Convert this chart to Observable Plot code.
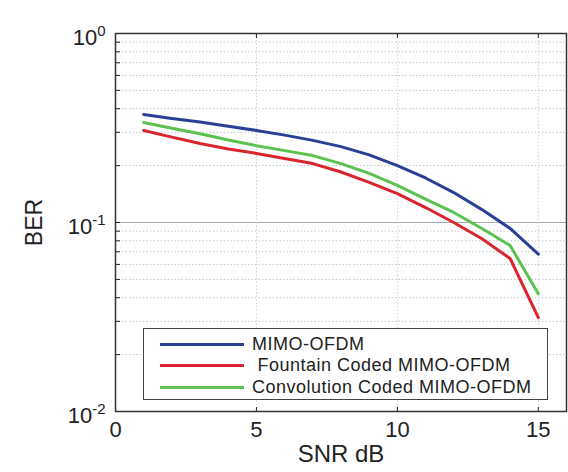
<!DOCTYPE html>
<html><head><meta charset="utf-8">
<script src="https://cdn.jsdelivr.net/npm/d3@7"></script>
<script src="https://cdn.jsdelivr.net/npm/@observablehq/plot@0.6"></script>
<style>
body{margin:0;background:#fff;font-family:"Liberation Sans",Arial,sans-serif;}
#wrap{position:relative;width:568px;height:472px;}
.legend{position:absolute;left:143px;top:328px;width:405px;height:72px;border:1.5px solid #444;background:#fff;box-sizing:border-box;}
.sw{position:absolute;left:16px;width:84px;height:3px;}
.lab{position:absolute;left:108px;font-size:18px;letter-spacing:0.5px;line-height:20px;color:#222;white-space:pre;}
</style></head><body><div id="wrap"></div>
<script>
const snr = [1,2,3,4,5,6,7,8,9,10,11,12,13,14,15];
const berMimo     = [0.373,0.355,0.340,0.323,0.307,0.290,0.272,0.252,0.228,0.200,0.172,0.144,0.117,0.093,0.068];
const berFountain = [0.307,0.283,0.262,0.245,0.232,0.218,0.205,0.185,0.163,0.142,0.120,0.100,0.082,0.0645,0.0314];
const berConv     = [0.338,0.315,0.295,0.273,0.255,0.240,0.226,0.205,0.182,0.157,0.133,0.113,0.093,0.0755,0.042];
const seriesNames = ["MIMO-OFDM", " Fountain Coded MIMO-OFDM", "Convolution Coded MIMO-OFDM"];
const seriesColors = ["#2b3f94", "#d9262e", "#5cc24f"];
const xTicks = [0,5,10,15];
const yMajor = [0.01,0.1,1];
const yMinor = [2,3,4,5,6,7,8,9].flatMap(k => [k*0.01, k*0.1]);

const seriesValues = [berMimo, berFountain, berConv];
const rows = seriesNames.flatMap((s,i) => snr.map((x,j) => ({snr:x, ber:seriesValues[i][j], series:s})));

const W=568, H=472, mL=115, mT=33, mR=2, mB=61;
const innerH = H-mT-mB, innerW = W-mL-mR;

const chart = Plot.plot({
  width: W, height: H, marginLeft: mL, marginTop: mT, marginRight: mR, marginBottom: mB,
  style: {fontFamily: "'Liberation Sans', Arial, sans-serif", fontSize: "22px", color: "#222", background: "#fff"},
  x: {domain: [0,16]},
  y: {type: "log", domain: [0.01,1]},
  color: {domain: seriesNames, range: seriesColors},
  marks: [
    Plot.ruleY(yMinor, {stroke: "#c4c4c4", strokeDasharray: "1.5,2"}),
    Plot.ruleY([0.1], {stroke: "#aaa"}),
    Plot.ruleX([5,10,15], {stroke: "#d0d0d0", strokeDasharray: "1.5,2"}),
    Plot.line(rows, {x: "snr", y: "ber", z: "series", stroke: "series", strokeWidth: 3}),
    Plot.axisX(xTicks, {anchor: "bottom", tickSize: 0, tickPadding: 10, fontSize: 22, label: null}),
    Plot.axisX(xTicks, {anchor: "bottom", tickSize: 0, tickFormat: () => "", label: "SNR dB", labelAnchor: "center", labelArrow: "none", labelOffset: 50, fontSize: 24}),
    Plot.axisX([5,10,15], {anchor: "top", dy: innerH, tickSize: 5, tickFormat: () => "", label: null}),
    Plot.axisX([5,10,15], {anchor: "bottom", dy: -innerH, tickSize: 5, tickFormat: () => "", label: null}),
    Plot.axisY(yMajor, {anchor: "left", tickSize: 0, tickPadding: 10, dy: 4, tickFormat: d => "10^" + Math.round(Math.log10(d)), label: null, fontSize: 22}),
    Plot.axisY(yMajor, {anchor: "left", tickSize: 0, tickFormat: () => "", label: "BER", labelAnchor: "center", labelArrow: "none", labelOffset: 90, fontSize: 23}),
    Plot.axisY(yMajor.concat(yMinor), {anchor: "right", dx: -innerW, tickSize: 4, tickFormat: () => "", label: null}),
    Plot.frame({stroke: "#333", strokeWidth: 1.5})
  ]
});

// superscript exponents on the y tick labels
d3.select(chart).selectAll('g[aria-label="y-axis tick label"] text').each(function() {
  const t = d3.select(this);
  const s = t.text();
  if (!s.includes("^")) return;
  const [base, e] = s.split("^");
  t.text(null);
  t.append("tspan").text(base);
  t.append("tspan").attr("dy", "-0.55em").attr("font-size", "15px").text(e);
});

const wrap = document.getElementById("wrap");
wrap.appendChild(chart);

const legend = document.createElement("div");
legend.className = "legend";
const rowY = [15, 36, 58];
seriesNames.forEach((s, i) => {
  const sw = document.createElement("div");
  sw.className = "sw";
  sw.style.top = (rowY[i] - 1.5) + "px";
  sw.style.background = seriesColors[i];
  legend.appendChild(sw);
  const lab = document.createElement("div");
  lab.className = "lab";
  lab.style.top = (rowY[i] - 10) + "px";
  lab.textContent = s;
  legend.appendChild(lab);
});
wrap.appendChild(legend);
</script>
</body></html>
